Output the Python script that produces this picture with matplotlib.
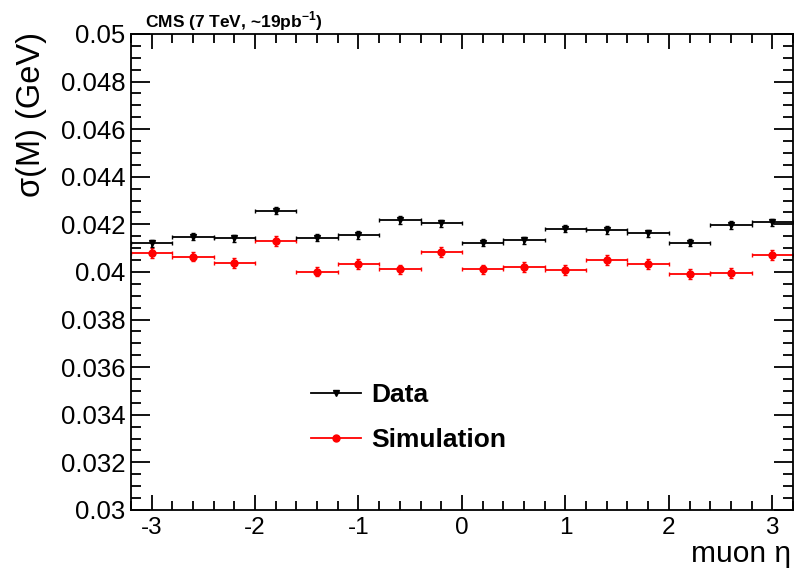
import matplotlib
matplotlib.use("Agg")
import matplotlib.pyplot as plt
from matplotlib.lines import Line2D
from matplotlib.ticker import MultipleLocator

# ---------------------------------------------------------------- data
eta = [-3.0, -2.6, -2.2, -1.8, -1.4, -1.0, -0.6, -0.2,
       0.2, 0.6, 1.0, 1.4, 1.8, 2.2, 2.6, 3.0]
half_width = 0.2

data_sigma = [0.04121, 0.04148, 0.04142, 0.04258, 0.04144, 0.04155, 0.04218, 0.04205,
              0.04123, 0.04132, 0.04181, 0.04176, 0.04163, 0.04123, 0.04197, 0.04209]
data_err = [0.00015] * 16

sim_sigma = [0.04079, 0.04064, 0.04037, 0.04130, 0.04001, 0.04034, 0.04011, 0.04083,
             0.04011, 0.04020, 0.04008, 0.04050, 0.04034, 0.03992, 0.03995, 0.04071]
sim_err = [0.0002] * 16

yticks = [0.03, 0.032, 0.034, 0.036, 0.038, 0.04, 0.042, 0.044, 0.046, 0.048, 0.05]
ytick_labels = ["0.03", "0.032", "0.034", "0.036", "0.038", "0.04",
                "0.042", "0.044", "0.046", "0.048", "0.05"]
xticks = [-3, -2, -1, 0, 1, 2, 3]
xtick_labels = ["-3", "-2", "-1", "0", "1", "2", "3"]

# ---------------------------------------------------------------- plot
plt.rcParams.update({"font.family": ["Liberation Sans", "DejaVu Sans"],
                     "mathtext.fontset": "custom",
                     "mathtext.rm": "Liberation Sans",
                     "mathtext.bf": "Liberation Sans:bold"})

fig = plt.figure(figsize=(7.98, 5.71), dpi=100)
ax = fig.add_axes([0.164, 0.107, 0.8297, 0.8336])

ax.errorbar(eta, data_sigma, xerr=half_width, yerr=data_err, fmt="v",
            color="black", ms=4, lw=1.3, capsize=1.5, elinewidth=1.3, zorder=3)
ax.errorbar(eta, sim_sigma, xerr=half_width, yerr=sim_err, fmt="o",
            color="#ff0000", ms=5, lw=1.3, capsize=1.5, elinewidth=1.3, zorder=2)

ax.set_xlim(-3.2, 3.2)
ax.set_ylim(0.03, 0.05)
ax.xaxis.set_minor_locator(MultipleLocator(0.2))
ax.yaxis.set_minor_locator(MultipleLocator(0.0005))
ax.set_yticks(yticks)
ax.set_yticklabels(ytick_labels)
ax.set_xticks(xticks)
ax.set_xticklabels(xtick_labels)
ax.tick_params(which="both", direction="in", top=True, right=True,
               width=1.3, colors="black")
ax.tick_params(axis="x", which="major", length=11, pad=5, labelsize=17.5)
ax.tick_params(axis="x", which="minor", length=6.5)
ax.tick_params(axis="y", which="major", length=14, pad=4, labelsize=18.5)
ax.tick_params(axis="y", which="minor", length=7.5)
for spine in ax.spines.values():
    spine.set_linewidth(1.3)

fig.text(0.04, 0.944, "σ(M) (GeV)", rotation=90, ha="center", va="top",
         fontsize=23.5)
fig.text(0.992, 0.016, "muon η", ha="right", va="baseline", fontsize=21.5)
fig.text(0.182, 0.963, r"CMS (7 TeV, ~19pb$^{\mathbf{-1}}$)", ha="left", va="center",
         fontsize=12.5, fontweight="bold")

handles = [Line2D([], [], color="black", marker="v", ms=4, lw=1.3),
           Line2D([], [], color="#ff0000", marker="o", ms=5, lw=1.3)]
ax.legend(handles, ["Data", "Simulation"], loc="upper left",
          bbox_to_anchor=(0.272, 0.266), frameon=False,
          prop={"weight": "bold", "size": 19}, handlelength=1.9,
          handletextpad=0.38, labelspacing=0.8, borderpad=0, borderaxespad=0)

fig.savefig("out.png", dpi=100, facecolor="white")
